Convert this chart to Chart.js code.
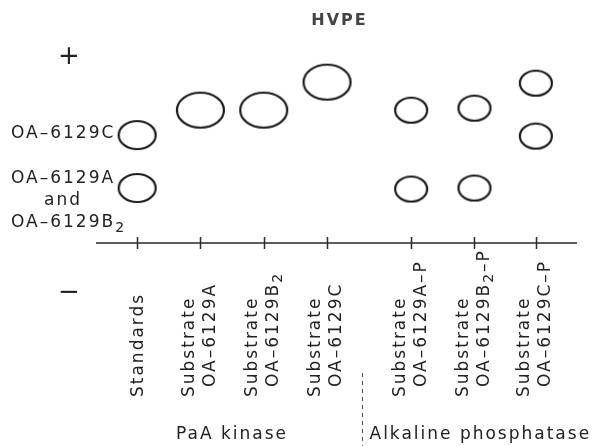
<!DOCTYPE html>
<html>
<head>
<meta charset="utf-8">
<script src="https://cdn.jsdelivr.net/npm/chart.js@4/dist/chart.umd.min.js"></script>
<style>
  body { margin: 0; background: #fff; }
  #wrap { width: 598px; height: 446px; }
</style>
</head>
<body>
<div id="wrap"><canvas id="hvpeChart"></canvas></div>
<script>
// lanes along the origin line (x in lane units, gap before the phosphatase lanes)
const laneLabels = [
    ['Standards'],
    ['Substrate', 'OA–6129A'],
    ['Substrate', 'OA–6129B₂'],
    ['Substrate', 'OA–6129C'],
    ['Substrate', 'OA–6129A–P'],
    ['Substrate', 'OA–6129B₂–P'],
    ['Substrate', 'OA–6129C–P']
];
const laneX = [1, 2, 3, 4, 5.33, 6.33, 7.3];
const groupSplit = 4.55;

// migration towards + (distance from origin, arbitrary units)
const standardSpots = [108, 55];
const standardNames = ['OA–6129C', 'OA–6129A', 'and', 'OA–6129B₂'];
const kinaseSpots = [133, 133, 161];          // lanes 2-4
const phosphataseSpots = [[133, 54], [135, 55], [160, 107]]; // lanes 5-7
const groupLabels = ['PaA kinase', 'Alkaline phosphatase'];
const titleText = 'HVPE';

const FONT = '"DejaVu Sans", sans-serif';
const TEXT = '#222';
const SIZE = 17;

function ellipse(rx, ry) {
    const c = document.createElement('canvas');
    c.width = Math.ceil(rx * 2 + 4);
    c.height = Math.ceil(ry * 2 + 4);
    const g = c.getContext('2d');
    g.strokeStyle = '#1a1a1a';
    g.lineWidth = 2.2;
    g.beginPath();
    g.ellipse(c.width / 2, c.height / 2, rx, ry, 0, 0, Math.PI * 2);
    g.stroke();
    return c;
}

const standardPts = standardSpots.map(v => ({x: laneX[0], y: v}));
const kinasePts = kinaseSpots.map((v, i) => ({x: laneX[i + 1], y: v}));
const phosPts = [];
phosphataseSpots.forEach((spots, i) => spots.forEach(v => phosPts.push({x: laneX[i + 4], y: v})));

// text with '₂' drawn as a lowered, smaller 2
function richWidth(ctx, text, size) {
    let w = 0;
    text.split(/(₂)/).forEach(p => {
        if (!p) return;
        const sub = p === '₂';
        ctx.font = (sub ? size - 3 : size) + 'px ' + FONT;
        w += ctx.measureText(sub ? '2' : p).width;
    });
    return w;
}
function richText(ctx, text, x, y, size) {
    let cx = x;
    text.split(/(₂)/).forEach(p => {
        if (!p) return;
        const sub = p === '₂';
        ctx.font = (sub ? size - 3 : size) + 'px ' + FONT;
        const t = sub ? '2' : p;
        ctx.fillText(t, cx, y + (sub ? 5 : 0));
        cx += ctx.measureText(t).width;
    });
}

const diagram = {
    id: 'diagram',
    beforeDraw(chart) {
        chart.ctx.letterSpacing = '2px';
    },
    afterDraw(chart) {
        const {ctx, chartArea: area, scales: {x, y}} = chart;
        const y0 = y.getPixelForValue(0);
        ctx.save();
        ctx.letterSpacing = '2px';
        // origin line with lane ticks
        ctx.strokeStyle = '#2a2a2a';
        ctx.lineWidth = 1.5;
        ctx.beginPath();
        ctx.moveTo(area.left, y0);
        ctx.lineTo(area.right, y0);
        laneX.forEach(v => {
            const px = Math.round(x.getPixelForValue(v)) + 0.5;
            ctx.moveTo(px, y0 - 6);
            ctx.lineTo(px, y0 + 6);
        });
        ctx.stroke();

        ctx.fillStyle = TEXT;
        ctx.textBaseline = 'middle';
        ctx.textAlign = 'left';
        // lane labels, rotated
        laneLabels.forEach((lines, i) => {
            const px = x.getPixelForValue(laneX[i]);
            lines.forEach((t, j) => {
                const cx = lines.length === 1 ? px + 1 : px + (j === 0 ? -11 : 10);
                const sy = y0 + (j === 0 ? 154 : 144);
                ctx.save();
                ctx.translate(cx, sy);
                ctx.rotate(-Math.PI / 2);
                richText(ctx, t, 0, 0, SIZE);
                ctx.restore();
            });
        });

        // standard names on the left
        ctx.textBaseline = 'alphabetic';
        const sC = y.getPixelForValue(standardSpots[0]);
        const sAB = y.getPixelForValue(standardSpots[1]);
        richText(ctx, standardNames[0], 11, sC + 3, SIZE);
        richText(ctx, standardNames[1], 11, sAB - 5, SIZE);
        const aw = richWidth(ctx, standardNames[2], SIZE);
        richText(ctx, standardNames[2], 63 - aw / 2, sAB + 17, SIZE);
        richText(ctx, standardNames[3], 11, sAB + 39, SIZE);

        // polarity signs
        ctx.letterSpacing = '0px';
        ctx.textAlign = 'center';
        ctx.textBaseline = 'middle';
        ctx.font = '26px ' + FONT;
        ctx.fillText('+', area.left - 27, area.top + 14);
        ctx.fillText('−', area.left - 27, y0 + 50);

        // enzyme groups
        ctx.letterSpacing = '2px';
        ctx.textAlign = 'left';
        ctx.textBaseline = 'alphabetic';
        ctx.font = SIZE + 'px ' + FONT;
        const kMid = (x.getPixelForValue(laneX[0]) + x.getPixelForValue(laneX[3])) / 2;
        const kw = ctx.measureText(groupLabels[0]).width;
        ctx.fillText(groupLabels[0], kMid - kw / 2, y0 + 196);
        const sx = Math.round(x.getPixelForValue(groupSplit)) + 0.5;
        ctx.fillText(groupLabels[1], sx + 7, y0 + 196);
        ctx.strokeStyle = '#555';
        ctx.lineWidth = 1;
        ctx.setLineDash([4, 4]);
        ctx.beginPath();
        ctx.moveTo(sx, y0 + 130);
        ctx.lineTo(sx, chart.height);
        ctx.stroke();
        ctx.restore();
    }
};

new Chart(document.getElementById('hvpeChart').getContext('2d'), {
    type: 'scatter',
    data: {
        datasets: [
            {label: 'Standards', data: standardPts, pointStyle: ellipse(18.5, 14)},
            {label: 'PaA kinase', data: kinasePts, pointStyle: ellipse(23.5, 17.5)},
            {label: 'Alkaline phosphatase', data: phosPts, pointStyle: ellipse(16, 12.5)}
        ]
    },
    options: {
        responsive: true,
        maintainAspectRatio: false,
        animation: false,
        layout: {padding: {left: 96, right: 15, top: 0, bottom: 203}},
        scales: {
            x: {type: 'linear', min: 0.35, max: 7.95, display: false},
            y: {type: 'linear', min: 0, max: 200, display: false}
        },
        plugins: {
            legend: {display: false},
            tooltip: {enabled: false},
            title: {
                display: true,
                text: titleText,
                color: '#444',
                font: {family: 'DejaVu Sans', size: 16, weight: 'bold'},
                padding: {top: 11, bottom: 13}
            }
        },
        elements: {point: {radius: 20}}
    },
    plugins: [diagram]
});
</script>
</body>
</html>
